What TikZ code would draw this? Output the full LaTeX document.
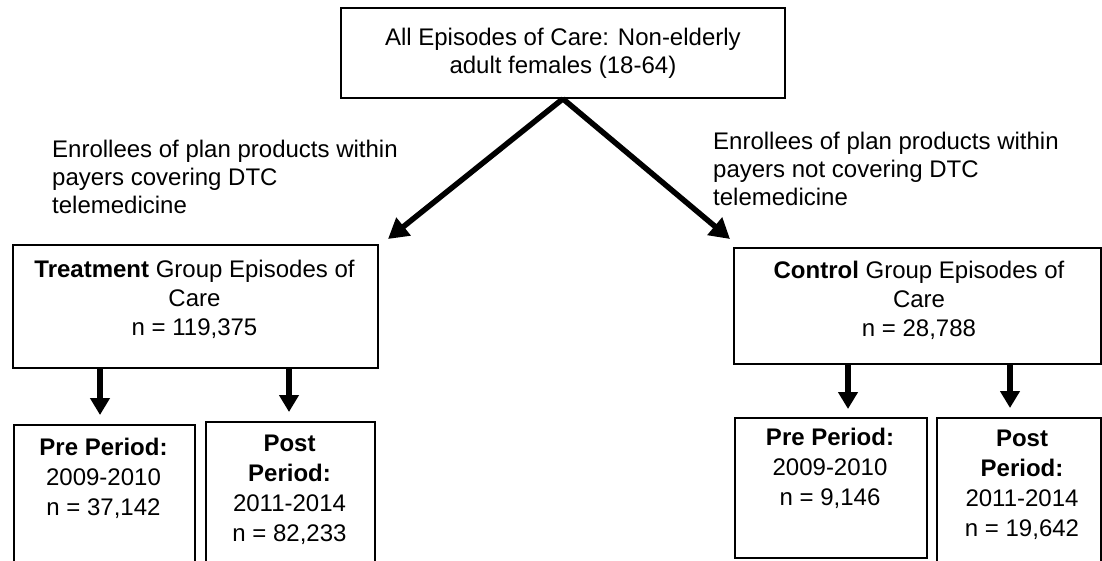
\documentclass[tikz,border=0pt]{standalone}
\usepackage{fontspec}
\setmainfont{Liberation Sans}
\usetikzlibrary{arrows.meta}
\begin{document}
\begin{tikzpicture}[x=1pt,y=-1pt,
  box/.style={draw=black, line width=1.8pt, inner sep=0pt, anchor=north west},
  txt/.style={font=\fontsize{24}{29}\selectfont, inner sep=0pt, align=center, anchor=north},
  txts/.style={font=\fontsize{24}{30}\selectfont, inner sep=0pt, align=center, anchor=north},
  lbl/.style={font=\fontsize{24}{28}\selectfont, inner sep=0pt, align=left, anchor=north west},
  arr/.style={line width=5.5pt, -{Triangle[width=19pt,length=17pt]}},
  darr/.style={line width=5.5pt, -{Triangle[width=22pt,length=20pt]}}
]
\path[use as bounding box] (0,0) rectangle (1102,560);
\clip (0,0) rectangle (1102,560);

% boxes
\node[box, minimum width=444pt, minimum height=90pt, font=\fontsize{24}{28}\selectfont, align=center] (top) at (340,7)
  {All Episodes of Care: Non-elderly\\adult females (18-64)};
\node[box, minimum width=365pt, minimum height=123pt] (treat) at (12,244) {};
\node[box, minimum width=367pt, minimum height=116pt] (ctrl) at (733,247) {};
\node[box, minimum width=181pt, minimum height=150pt] (pre1) at (13,424) {};
\node[box, minimum width=169pt, minimum height=150pt] (post1) at (205,421) {};
\node[box, minimum width=192pt, minimum height=140pt] (pre2) at (734,417) {};
\node[box, minimum width=164pt, minimum height=150pt] (post2) at (936,417) {};

% box texts
\node[txt] (treatT) at (194.5,259.5) {\textbf{Treatment} Group Episodes of\\Care\\n = 119,375};
\node[txt] (ctrlT) at (919,260.5) {\textbf{Control} Group Episodes of\\Care\\n = 28,788};
\node[txts] (pre1T) at (103.5,437.5) {\textbf{Pre Period:}\\2009-2010\\n = 37,142};
\node[txts] (post1T) at (289.5,434.5) {\textbf{Post}\\\textbf{Period:}\\2011-2014\\n = 82,233};
\node[txts] (pre2T) at (830,427.5) {\textbf{Pre Period:}\\2009-2010\\n = 9,146};
\node[txts] (post2T) at (1022,429.5) {\textbf{Post}\\\textbf{Period:}\\2011-2014\\n = 19,642};

% labels
\node[lbl] (lblL) at (52,139.5) {Enrollees of plan products within\\payers covering DTC\\telemedicine};
\node[lbl] (lblR) at (713,131.5) {Enrollees of plan products within\\payers not covering DTC\\telemedicine};

% arrows
\coordinate (tipL) at (388,239);
\coordinate (tipR) at (730,239);
\draw[darr] (top.south) -- (tipL);
\draw[darr] (top.south) -- (tipR);

\coordinate (a1) at (100,415);
\coordinate (a2) at (289,412);
\coordinate (a3) at (848,409);
\coordinate (a4) at (1010,408);
\draw[arr] (treat.south -| a1) -- (a1);
\draw[arr] (treat.south -| a2) -- (a2);
\draw[arr] (ctrl.south -| a3) -- (a3);
\draw[arr] (ctrl.south -| a4) -- (a4);
\end{tikzpicture}
\end{document}
